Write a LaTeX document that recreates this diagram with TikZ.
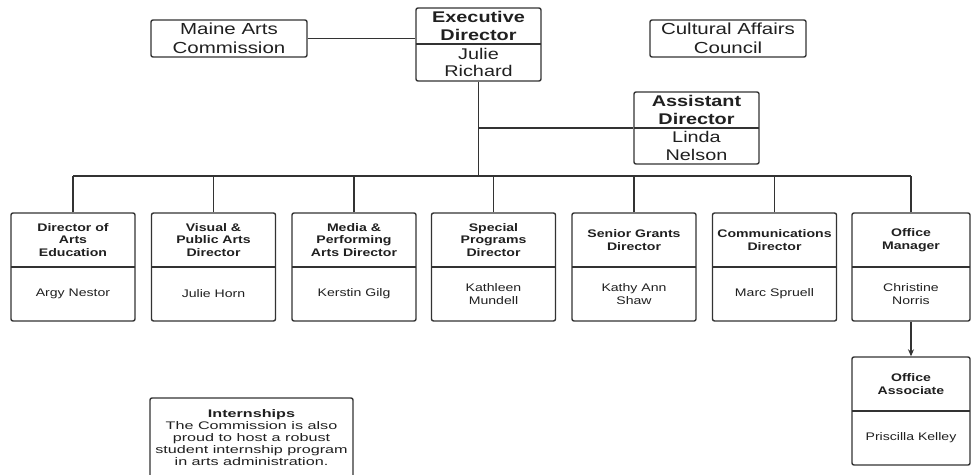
\documentclass[tikz,border=0pt]{standalone}
\usepackage{fontspec}
\setmainfont{Liberation Sans}[FakeStretch=1.28]
\newfontfamily\widefont{Liberation Sans}[FakeStretch=1.47]
\usetikzlibrary{arrows.meta}
\definecolor{ln}{HTML}{333333}
\definecolor{tx}{HTML}{202020}
\tikzset{
  outer/.style={draw=ln, line width=1.4pt, rounded corners=2pt, inner sep=0pt},
  divline/.style={draw=ln, line width=1.3pt},
  conn/.style={draw=ln, line width=1.4pt},
  topt/.style={text=tx, align=center, inner sep=0pt, font={\fontsize{16}{19}\selectfont}},
  bigt/.style={text=tx, align=center, inner sep=0pt, font={\fontsize{15.5}{17.5}\selectfont\bfseries}},
  bign/.style={text=tx, align=center, inner sep=0pt, font={\fontsize{15.5}{17.5}\selectfont}},
  smt/.style={text=tx, align=center, inner sep=0pt, font={\fontsize{11}{12.5}\selectfont\bfseries}},
  smn/.style={text=tx, align=center, inner sep=0pt, font={\fontsize{11}{12.5}\selectfont}},
  intt/.style={text=tx, align=center, inner sep=0pt, font={\widefont\fontsize{11}{12}\selectfont}},
}
% name, cx, top, divider, bottom, width, title, person, style prefix
\newcommand\orgbox[9]{%
  \node[outer, minimum width=#6pt, minimum height={(#5-#3)*1pt}] (#1) at (#2,{(#3+#5)/2}) {};
  \draw[divline] ({#2-#6/2},#4) -- ({#2+#6/2},#4);
  \node[#9t] (#1t) at (#2,{(#3+#4)/2}) {#7};
  \node[#9n] (#1n) at (#2,{(#4+#5)/2}) {#8};
}
\begin{document}
\begin{tikzpicture}[x=1pt, y=-1pt]
\useasboundingbox (0,0) rectangle (972,474);
\clip (0,0) rectangle (972,474);
\fill[white] (0,0) rectangle (972,474);

% top row
\node[outer, minimum width=156pt, minimum height=37pt] (ma) at (229,38.5) {};
\node[topt] (mat) at (229,38.5) {Maine Arts\\Commission};
\node[outer, minimum width=156pt, minimum height=37pt] (ca) at (728,38.5) {};
\node[topt] (cat) at (728,38.5) {Cultural Affairs\\Council};

\orgbox{ed}{478.5}{8}{44}{81}{125}{Executive\\Director}{Julie\\Richard}{big}
\orgbox{ad}{696.5}{92}{128}{164}{125}{Assistant\\Director}{Linda\\Nelson}{big}

% bottom row
\orgbox{b1}{73}{213}{267}{321}{124}{Director of\\Arts\\Education}{Argy Nestor}{sm}
\orgbox{b2}{213.5}{213}{267}{321}{124}{Visual \&\\Public Arts\\Director}{Julie Horn}{sm}
\orgbox{b3}{354}{213}{267}{321}{124}{Media \&\\Performing\\Arts Director}{Kerstin Gilg}{sm}
\orgbox{b4}{493.5}{213}{267}{321}{124}{Special\\Programs\\Director}{Kathleen\\Mundell}{sm}
\orgbox{b5}{634}{213}{267}{321}{124}{Senior Grants\\Director}{Kathy Ann\\Shaw}{sm}
\orgbox{b6}{774.5}{213}{267}{321}{124}{Communications\\Director}{Marc Spruell}{sm}
\orgbox{b7}{911}{213}{267}{321}{118}{Office\\Manager}{Christine\\Norris}{sm}
\orgbox{oa}{911}{357}{411}{465}{118}{Office\\Associate}{Priscilla Kelley}{sm}

% internships
\node[outer, minimum width=203pt, minimum height=92pt] (in) at (251.5,444) {};
\node[intt] (intx) at (251.5,437.5) {\textbf{Internships}\\The Commission is also\\proud to host a robust\\student internship program\\in arts administration.};

% connectors
\coordinate (busL) at (73,176);
\draw[conn] (ma.east) -- (ed.west |- ma.east);
\draw[conn] (ed.south) -- (ed.south |- busL);
\draw[conn] (ed.south |- ad.west) -- (ad.west);
\draw[conn] (b1.north |- busL) -- (b7.north |- busL);
\foreach \b in {b1,b2,b3,b4,b5,b6,b7}
  \draw[conn] (\b.north) -- (\b.north |- busL);
\draw[conn, -{Stealth[length=7pt,width=6pt]}] (b7.south) -- (oa.north);
\end{tikzpicture}
\end{document}
